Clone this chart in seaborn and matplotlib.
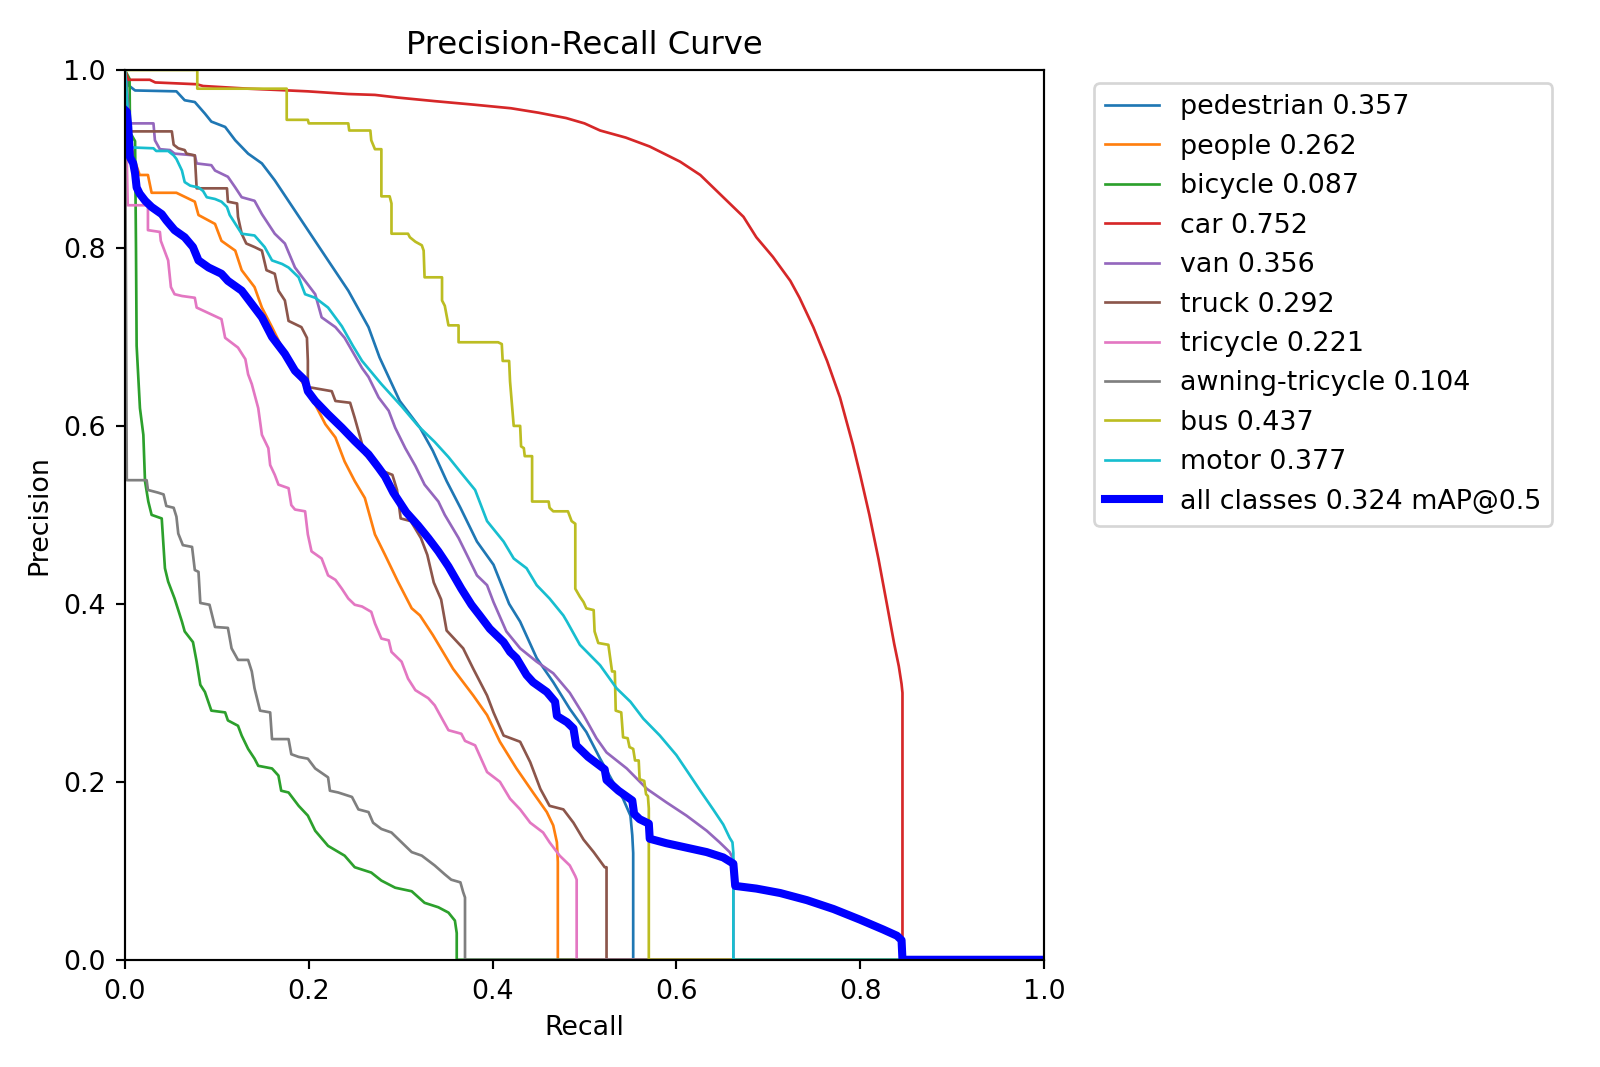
import matplotlib
matplotlib.use("Agg")
import matplotlib.pyplot as plt
import seaborn as sns
import pandas as pd

# (recall, precision) pairs
pedestrian = [(0, 1.0), (0.0036, 0.983), (0.011, 0.977), (0.056, 0.976), (0.065, 0.966), (0.076, 0.964),
              (0.087, 0.951), (0.094, 0.942), (0.109, 0.936), (0.120, 0.921), (0.134, 0.906), (0.149, 0.895),
              (0.163, 0.876), (0.192, 0.831), (0.221, 0.786), (0.243, 0.752), (0.265, 0.711), (0.277, 0.677),
              (0.299, 0.628), (0.321, 0.598), (0.335, 0.572), (0.350, 0.538), (0.365, 0.508), (0.383, 0.470),
              (0.401, 0.444), (0.418, 0.400), (0.430, 0.380), (0.448, 0.339), (0.466, 0.312), (0.484, 0.282),
              (0.502, 0.256), (0.517, 0.226), (0.531, 0.200), (0.542, 0.181), (0.550, 0.162), (0.552, 0.140),
              (0.553, 0.12), (0.553, 0.0), (1.0, 0.0)]

people = [(0, 1.0), (0.004, 0.93), (0.010, 0.90), (0.016, 0.882), (0.025, 0.882), (0.029, 0.862), (0.056, 0.862),
          (0.076, 0.852), (0.080, 0.837), (0.098, 0.827), (0.105, 0.808), (0.120, 0.797), (0.127, 0.775),
          (0.141, 0.756), (0.149, 0.733), (0.160, 0.711), (0.170, 0.690), (0.207, 0.624), (0.218, 0.602),
          (0.229, 0.587), (0.239, 0.560), (0.250, 0.538), (0.261, 0.519), (0.272, 0.478), (0.283, 0.455),
          (0.297, 0.425), (0.312, 0.395), (0.321, 0.387), (0.335, 0.365), (0.357, 0.327), (0.379, 0.297),
          (0.394, 0.275), (0.408, 0.245), (0.426, 0.215), (0.444, 0.188), (0.459, 0.166), (0.466, 0.151),
          (0.470, 0.132), (0.471, 0.11), (0.471, 0.0), (1.0, 0.0)]

bicycle = [(0, 1.0), (0.005, 0.99), (0.0055, 0.93), (0.011, 0.92), (0.012, 0.80), (0.0127, 0.69), (0.0163, 0.620),
           (0.020, 0.590), (0.0218, 0.538), (0.0254, 0.515), (0.029, 0.500), (0.040, 0.496), (0.0435, 0.440),
           (0.047, 0.425), (0.054, 0.406), (0.062, 0.380), (0.065, 0.369), (0.074, 0.357), (0.078, 0.335),
           (0.082, 0.309), (0.087, 0.301), (0.094, 0.280), (0.109, 0.278), (0.112, 0.269), (0.123, 0.263),
           (0.127, 0.252), (0.134, 0.237), (0.141, 0.226), (0.145, 0.218), (0.160, 0.215), (0.167, 0.207),
           (0.170, 0.190), (0.178, 0.188), (0.189, 0.173), (0.199, 0.162), (0.207, 0.145), (0.221, 0.128),
           (0.239, 0.117), (0.250, 0.104), (0.268, 0.098), (0.279, 0.089), (0.294, 0.081), (0.312, 0.077),
           (0.326, 0.064), (0.341, 0.059), (0.352, 0.053), (0.359, 0.044), (0.361, 0.03), (0.361, 0.0), (1.0, 0.0)]

car = [(0, 1.0), (0.0036, 0.989), (0.027, 0.989), (0.033, 0.986), (0.078, 0.984), (0.085, 0.982), (0.134, 0.979),
       (0.178, 0.977), (0.199, 0.976), (0.243, 0.973), (0.272, 0.972), (0.297, 0.969), (0.337, 0.965),
       (0.38, 0.961), (0.42, 0.957), (0.45, 0.952), (0.48, 0.946), (0.50, 0.940), (0.517, 0.932), (0.545, 0.924),
       (0.571, 0.914), (0.604, 0.897), (0.626, 0.882), (0.651, 0.857), (0.673, 0.835), (0.687, 0.812),
       (0.705, 0.790), (0.724, 0.763), (0.734, 0.744), (0.749, 0.711), (0.764, 0.673), (0.778, 0.632),
       (0.792, 0.579), (0.80, 0.545), (0.81, 0.50), (0.82, 0.45), (0.829, 0.40), (0.837, 0.355), (0.842, 0.33),
       (0.845, 0.31), (0.846, 0.30), (0.846, 0.0), (1.0, 0.0)]

van = [(0, 1.0), (0.0054, 0.940), (0.031, 0.940), (0.0326, 0.921), (0.038, 0.911), (0.049, 0.910), (0.054, 0.906),
       (0.076, 0.904), (0.078, 0.895), (0.094, 0.893), (0.098, 0.887), (0.112, 0.880), (0.120, 0.868),
       (0.127, 0.857), (0.141, 0.853), (0.149, 0.838), (0.163, 0.816), (0.174, 0.805), (0.185, 0.778),
       (0.196, 0.763), (0.207, 0.748), (0.214, 0.722), (0.229, 0.711), (0.239, 0.699), (0.258, 0.665),
       (0.265, 0.655), (0.276, 0.632), (0.287, 0.617), (0.294, 0.598), (0.305, 0.575), (0.316, 0.555),
       (0.326, 0.534), (0.341, 0.515), (0.348, 0.500), (0.363, 0.474), (0.374, 0.451), (0.383, 0.432),
       (0.394, 0.421), (0.401, 0.402), (0.415, 0.369), (0.430, 0.350), (0.448, 0.335), (0.466, 0.322),
       (0.484, 0.300), (0.499, 0.275), (0.513, 0.249), (0.524, 0.233), (0.546, 0.215), (0.568, 0.192),
       (0.589, 0.177), (0.611, 0.162), (0.633, 0.145), (0.647, 0.132), (0.658, 0.121), (0.662, 0.113),
       (0.662, 0.0), (1.0, 0.0)]

truck = [(0, 1.0), (0.0054, 0.931), (0.051, 0.931), (0.053, 0.916), (0.058, 0.912), (0.065, 0.910), (0.067, 0.906),
         (0.076, 0.904), (0.078, 0.867), (0.111, 0.867), (0.112, 0.852), (0.122, 0.850), (0.123, 0.835),
         (0.127, 0.816), (0.132, 0.805), (0.141, 0.801), (0.149, 0.797), (0.154, 0.775), (0.163, 0.771),
         (0.167, 0.752), (0.174, 0.741), (0.178, 0.718), (0.192, 0.711), (0.198, 0.699), (0.199, 0.673),
         (0.199, 0.643), (0.203, 0.643), (0.225, 0.639), (0.229, 0.628), (0.245, 0.626), (0.250, 0.609),
         (0.256, 0.587), (0.261, 0.568), (0.276, 0.551), (0.291, 0.545), (0.296, 0.528), (0.300, 0.496),
         (0.311, 0.493), (0.322, 0.474), (0.329, 0.455), (0.336, 0.424), (0.344, 0.405), (0.350, 0.370),
         (0.368, 0.350), (0.379, 0.327), (0.394, 0.297), (0.401, 0.278), (0.412, 0.252), (0.430, 0.245),
         (0.441, 0.222), (0.452, 0.192), (0.462, 0.173), (0.477, 0.169), (0.488, 0.154), (0.499, 0.135),
         (0.510, 0.121), (0.522, 0.104), (0.524, 0.104), (0.524, 0.0), (1.0, 0.0)]

tricycle = [(0, 1.0), (0.003, 0.848), (0.025, 0.848), (0.025, 0.820), (0.038, 0.818), (0.039, 0.808),
            (0.047, 0.786), (0.050, 0.756), (0.054, 0.748), (0.062, 0.746), (0.076, 0.744), (0.078, 0.733),
            (0.105, 0.720), (0.109, 0.699), (0.123, 0.688), (0.131, 0.675), (0.134, 0.658), (0.138, 0.647),
            (0.145, 0.620), (0.149, 0.590), (0.156, 0.575), (0.158, 0.556), (0.163, 0.545), (0.167, 0.534),
            (0.178, 0.530), (0.181, 0.511), (0.185, 0.506), (0.196, 0.504), (0.199, 0.478), (0.203, 0.459),
            (0.214, 0.451), (0.221, 0.432), (0.229, 0.427), (0.236, 0.417), (0.243, 0.406), (0.250, 0.399),
            (0.258, 0.397), (0.268, 0.391), (0.272, 0.378), (0.279, 0.361), (0.287, 0.359), (0.290, 0.346),
            (0.301, 0.335), (0.308, 0.316), (0.316, 0.303), (0.330, 0.294), (0.337, 0.286), (0.345, 0.271),
            (0.352, 0.258), (0.366, 0.254), (0.370, 0.246), (0.381, 0.241), (0.394, 0.211), (0.408, 0.200),
            (0.419, 0.181), (0.430, 0.169), (0.441, 0.154), (0.455, 0.143), (0.462, 0.132), (0.473, 0.117),
            (0.484, 0.106), (0.490, 0.094), (0.4915, 0.09), (0.4915, 0.0), (1.0, 0.0)]

awning_tricycle = [(0, 1.0), (0.002, 0.539), (0.0236, 0.539), (0.025, 0.528), (0.036, 0.525), (0.042, 0.523),
                   (0.045, 0.510), (0.053, 0.508), (0.056, 0.498), (0.058, 0.479), (0.063, 0.466), (0.073, 0.464),
                   (0.076, 0.438), (0.080, 0.436), (0.082, 0.401), (0.092, 0.399), (0.098, 0.374), (0.112, 0.373),
                   (0.116, 0.350), (0.123, 0.337), (0.134, 0.337), (0.138, 0.324), (0.141, 0.305), (0.147, 0.280),
                   (0.158, 0.278), (0.160, 0.248), (0.178, 0.248), (0.181, 0.231), (0.189, 0.228), (0.199, 0.226),
                   (0.207, 0.215), (0.221, 0.205), (0.223, 0.190), (0.232, 0.188), (0.247, 0.183), (0.254, 0.169),
                   (0.265, 0.166), (0.270, 0.154), (0.279, 0.147), (0.290, 0.143), (0.301, 0.132), (0.312, 0.121),
                   (0.323, 0.117), (0.337, 0.106), (0.348, 0.096), (0.355, 0.090), (0.365, 0.087), (0.368, 0.076),
                   (0.370, 0.07), (0.370, 0.0), (1.0, 0.0)]

bus = [(0, 1.0), (0.0787, 1.0), (0.0787, 0.979), (0.176, 0.979), (0.176, 0.944), (0.199, 0.944), (0.200, 0.940),
       (0.243, 0.940), (0.244, 0.932), (0.267, 0.932), (0.268, 0.921), (0.272, 0.911), (0.279, 0.911),
       (0.279, 0.858), (0.288, 0.858), (0.290, 0.850), (0.290, 0.816), (0.308, 0.816), (0.310, 0.812),
       (0.316, 0.807), (0.323, 0.803), (0.325, 0.797), (0.326, 0.767), (0.345, 0.767), (0.345, 0.741),
       (0.348, 0.735), (0.352, 0.713), (0.363, 0.713), (0.363, 0.694), (0.406, 0.694), (0.410, 0.692),
       (0.411, 0.673), (0.418, 0.673), (0.419, 0.650), (0.423, 0.600), (0.430, 0.600), (0.431, 0.577),
       (0.434, 0.575), (0.435, 0.566), (0.443, 0.566), (0.443, 0.515), (0.461, 0.515), (0.462, 0.508),
       (0.466, 0.504), (0.482, 0.504), (0.486, 0.493), (0.490, 0.490), (0.490, 0.417), (0.495, 0.408),
       (0.499, 0.402), (0.502, 0.395), (0.510, 0.393), (0.511, 0.369), (0.515, 0.356), (0.526, 0.354),
       (0.530, 0.324), (0.533, 0.324), (0.534, 0.280), (0.540, 0.278), (0.542, 0.250), (0.547, 0.249),
       (0.549, 0.239), (0.553, 0.237), (0.555, 0.224), (0.559, 0.224), (0.560, 0.203), (0.565, 0.201),
       (0.567, 0.186), (0.569, 0.184), (0.570, 0.17), (0.570, 0.0), (1.0, 0.0)]

motor = [(0, 1.0), (0.006, 0.913), (0.031, 0.912), (0.034, 0.909), (0.047, 0.909), (0.053, 0.904), (0.056, 0.900),
         (0.062, 0.887), (0.065, 0.874), (0.071, 0.870), (0.080, 0.868), (0.085, 0.864), (0.089, 0.857),
         (0.098, 0.855), (0.105, 0.852), (0.111, 0.846), (0.114, 0.837), (0.127, 0.816), (0.141, 0.814),
         (0.152, 0.801), (0.160, 0.786), (0.171, 0.782), (0.178, 0.778), (0.189, 0.767), (0.196, 0.748),
         (0.207, 0.744), (0.221, 0.733), (0.236, 0.712), (0.248, 0.690), (0.258, 0.673), (0.279, 0.647),
         (0.301, 0.622), (0.319, 0.600), (0.337, 0.582), (0.352, 0.565), (0.366, 0.547), (0.381, 0.528),
         (0.394, 0.493), (0.412, 0.470), (0.423, 0.451), (0.437, 0.440), (0.448, 0.421), (0.462, 0.406),
         (0.477, 0.387), (0.481, 0.380), (0.495, 0.354), (0.517, 0.331), (0.535, 0.305), (0.550, 0.290),
         (0.564, 0.271), (0.582, 0.252), (0.600, 0.230), (0.615, 0.207), (0.626, 0.190), (0.640, 0.169),
         (0.651, 0.152), (0.658, 0.137), (0.661, 0.132), (0.662, 0.12), (0.662, 0.0), (1.0, 0.0)]

all_classes = [(0, 0.955), (0.002, 0.953), (0.0036, 0.936), (0.0054, 0.902), (0.009, 0.895), (0.011, 0.884),
               (0.0127, 0.868), (0.016, 0.861), (0.022, 0.853), (0.029, 0.846), (0.040, 0.838), (0.045, 0.831),
               (0.054, 0.820), (0.065, 0.812), (0.074, 0.801), (0.080, 0.786), (0.091, 0.778), (0.105, 0.771),
               (0.112, 0.763), (0.127, 0.752), (0.138, 0.737), (0.149, 0.722), (0.160, 0.700), (0.174, 0.681),
               (0.185, 0.662), (0.196, 0.651), (0.199, 0.639), (0.207, 0.628), (0.221, 0.613), (0.236, 0.598),
               (0.250, 0.583), (0.265, 0.568), (0.276, 0.553), (0.283, 0.543), (0.292, 0.525), (0.306, 0.503),
               (0.319, 0.488), (0.330, 0.474), (0.341, 0.459), (0.352, 0.442), (0.366, 0.417), (0.377, 0.399),
               (0.386, 0.387), (0.397, 0.372), (0.412, 0.357), (0.419, 0.346), (0.426, 0.339), (0.437, 0.320),
               (0.444, 0.312), (0.459, 0.301), (0.468, 0.290), (0.470, 0.274), (0.481, 0.267), (0.488, 0.260),
               (0.491, 0.241), (0.504, 0.228), (0.522, 0.214), (0.524, 0.202), (0.537, 0.190), (0.552, 0.179),
               (0.554, 0.164), (0.560, 0.158), (0.570, 0.153), (0.571, 0.136), (0.589, 0.131), (0.611, 0.126),
               (0.633, 0.121), (0.651, 0.115), (0.662, 0.108), (0.664, 0.083), (0.687, 0.080), (0.713, 0.075),
               (0.742, 0.067), (0.771, 0.057), (0.800, 0.045), (0.825, 0.034), (0.840, 0.027), (0.845, 0.022),
               (0.846, 0.0), (1.0, 0.0)]

class_names = ["pedestrian", "people", "bicycle", "car", "van", "truck", "tricycle",
               "awning-tricycle", "bus", "motor"]
class_ap = [0.357, 0.262, 0.087, 0.752, 0.356, 0.292, 0.221, 0.104, 0.437, 0.377]
class_curves = [pedestrian, people, bicycle, car, van, truck, tricycle, awning_tricycle, bus, motor]
map50 = 0.324

DPI = 1600 / 9 * 1.09
fig = plt.figure(figsize=(1600 / DPI, 1067 / DPI), dpi=DPI)
ax = fig.add_axes([0.0781, 0.1005, 0.6525 - 0.0781, 0.9344 - 0.1005])
palette = sns.color_palette("tab10", 10)

for i, (name, ap, pts) in enumerate(zip(class_names, class_ap, class_curves)):
    df = pd.DataFrame(pts, columns=["recall", "precision"])
    sns.lineplot(data=df, x="recall", y="precision", ax=ax, color=palette[i], linewidth=1,
                 estimator=None, sort=False, label=f"{name} {ap:.3f}")

df_all = pd.DataFrame(all_classes, columns=["recall", "precision"])
sns.lineplot(data=df_all, x="recall", y="precision", ax=ax, color="blue", linewidth=3,
             estimator=None, sort=False, label=f"all classes {map50:.3f} mAP@0.5")

ax.set_xlabel("Recall")
ax.set_ylabel("Precision")
ax.set_xlim(0, 1)
ax.set_ylim(0, 1)
ax.set_title("Precision-Recall Curve")
ax.legend(bbox_to_anchor=(1.04, 1), loc="upper left")

fig.savefig("out.png", dpi=DPI)
